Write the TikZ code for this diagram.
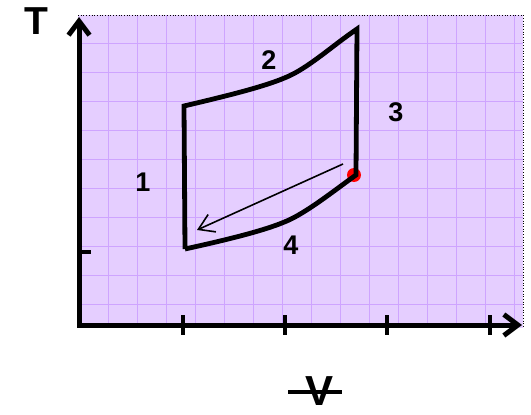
\documentclass[tikz,border=0pt]{standalone}
\usepackage{fontspec}
\setmainfont{Liberation Sans}
\usetikzlibrary{arrows.meta}
\definecolor{bgpurple}{RGB}{229,206,255}
\definecolor{gridpurple}{RGB}{206,164,255}
\begin{document}
\begin{tikzpicture}[x=1pt,y=-1pt,
  axisline/.style={line width=5pt, line join=miter,
    {Straight Barb[length=14pt,width=21pt]}-{Straight Barb[length=14pt,width=21pt]}},
  tickline/.style={line width=4.5pt},
  cyclepath/.style={line width=4.8pt, line join=miter},
  lbl/.style={font=\bfseries\fontsize{27}{27}\selectfont, inner sep=0pt},
  gridline/.style={gridpurple, line width=1pt},
]
\useasboundingbox (0,0) rectangle (531,415);
% background and grid
\fill[bgpurple] (78,15) rectangle (523,328);
\foreach \x in {108,137,...,515} \draw[gridline] (\x,15) -- (\x,328);
\foreach \y in {43,72,...,320} \draw[gridline] (78,\y) -- (523,\y);
\draw[dotted, line width=0.7pt] (78,15) -- (523,15) -- (523,328);
% axes
\coordinate (O) at (79,325);
\coordinate (ytop) at (79,17);
\coordinate (xend) at (522,325);
\draw[axisline] (ytop) -- (O) -- (xend);
\foreach \x in {183,285,387,490} \draw[tickline] (\x,315) -- (\x,335);
\draw[tickline] (79,252) -- (91,252);
% red point
\node[circle, fill=red, minimum size=14pt, inner sep=0pt] (dot) at (354,175) {};
% cycle
\coordinate (A) at (185,249);
\coordinate (B) at (184,106);
\coordinate (C) at (357,29);
\coordinate (D) at (356,175);
\draw[cyclepath] (A) -- (B)
  .. controls (235,94) and (275,84) .. (295,73)
  .. controls (315,62) and (335,44) .. (C) -- (D)
  .. controls (335,190) and (315,206) .. (295,217)
  .. controls (275,228) and (235,238) .. (A);
% thin arrow
\coordinate (s) at (343,164);
\coordinate (e) at (197,230);
\draw[line width=1.6pt, -{Straight Barb[length=15pt,width=19pt]}] (s) -- (e);
% labels
\node[lbl] (l1) at (143,182) {1};
\node[lbl] (l2) at (269,60) {2};
\node[lbl] (l3) at (396,112) {3};
\node[lbl] (l4) at (291,245) {4};
\node[font=\bfseries\fontsize{39}{39}\selectfont, inner sep=0pt] (T) at (36,21) {T};
\node[font=\bfseries\fontsize{42}{42}\selectfont, inner sep=0pt] (V) at (320,391) {V};
\coordinate (vl) at (288,392);
\coordinate (vr) at (342,392);
\draw[line width=4pt] (vl) -- (vr);
\end{tikzpicture}
\end{document}
